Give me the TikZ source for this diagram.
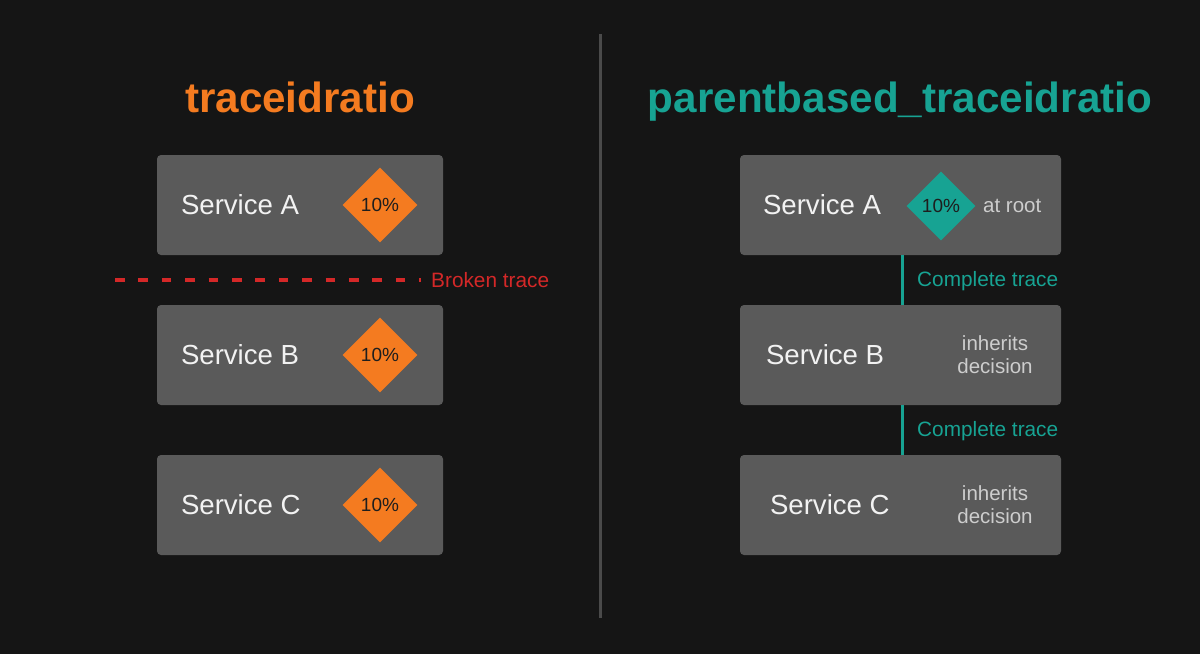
\documentclass[tikz,border=0pt]{standalone}
\usepackage{fontspec}
\setmainfont{Liberation Sans}
\usetikzlibrary{shapes.geometric}
\definecolor{bgc}{HTML}{151515}
\definecolor{boxc}{HTML}{5A5A5A}
\definecolor{orangec}{HTML}{F47B20}
\definecolor{tealc}{HTML}{17A393}
\definecolor{redc}{HTML}{D42828}
\definecolor{divc}{HTML}{4A4A4A}
\definecolor{txtc}{HTML}{F2F2F2}
\definecolor{subc}{HTML}{CDCDCD}
\definecolor{darkc}{HTML}{1E1E1E}
\begin{document}
\begin{tikzpicture}[x=1pt,y=-1pt,
  svcbox/.style={fill=boxc, draw=none, rounded corners=4pt, inner sep=0pt},
  lbox/.style={svcbox, minimum width=286pt, minimum height=100pt},
  rbox/.style={svcbox, minimum width=321pt, minimum height=100pt},
  svc/.style={text=txtc, font=\fontsize{27.6}{32}\selectfont, anchor=west, inner sep=0pt},
  pct/.style={diamond, aspect=1, inner sep=0pt, minimum width=#1, minimum height=#1, text=darkc, font=\fontsize{19}{22}\selectfont},
  sub/.style={text=subc, font=\fontsize{20.5}{24}\selectfont, inner sep=0pt, align=center},
  title/.style={font=\bfseries\fontsize{42.2}{48}\selectfont, anchor=base, inner sep=0pt},
  conn/.style={draw=tealc, line width=3pt},
  connlabel/.style={text=tealc, font=\fontsize{20.8}{24}\selectfont, anchor=west, inner sep=0pt},
]
\useasboundingbox[fill=bgc] (0,0) rectangle (1200,654);

% divider
\coordinate (d0) at (600,34);
\coordinate (d1) at (600,618);
\draw[divc, line width=3pt] (d0) -- (d1);

% titles
\node[title, text=orangec] (t1) at (300,112) {traceidratio};
\node[title, text=tealc] (t2) at (900,112) {parentbased\_traceidratio};

% left column
\node[lbox] (la) at (300,205) {};
\node[lbox] (lb) at (300,355) {};
\node[lbox] (lc) at (300,505) {};
\node[svc] (la-t) at ([xshift=24pt]la.west) {Service A};
\node[svc] (lb-t) at ([xshift=24pt]lb.west) {Service B};
\node[svc] (lc-t) at ([xshift=24pt]lc.west) {Service C};
\node[pct=75pt, fill=orangec] (la-d) at (380,205) {10\%};
\node[pct=75pt, fill=orangec] (lb-d) at (380,355) {10\%};
\node[pct=75pt, fill=orangec] (lc-d) at (380,505) {10\%};

% broken trace
\coordinate (bt0) at (115,280);
\node[text=redc, font=\fontsize{20.8}{24}\selectfont, anchor=west, inner sep=0pt] (btl) at (431,280) {Broken trace};
\draw[redc, line width=3.5pt, dash pattern=on 9.5pt off 13.9pt, shorten >=10pt] (bt0) -- (btl.west);

% right column
\node[rbox] (ra) at (900.5,205) {};
\node[rbox] (rb) at (900.5,355) {};
\node[rbox] (rc) at (900.5,505) {};
\node[svc] (ra-t) at ([xshift=23pt]ra.west) {Service A};
\node[svc] (rb-t) at ([xshift=26pt]rb.west) {Service B};
\node[svc] (rc-t) at ([xshift=30pt]rc.west) {Service C};
\node[pct=69pt, fill=tealc] (ra-d) at (941,206) {10\%};
\node[sub, anchor=west] (ra-s) at (983,206) {at root};
\node[sub] (rb-s) at (995,355) {inherits\\[-1pt]decision};
\node[sub] (rc-s) at (995,505) {inherits\\[-1pt]decision};

% connectors
\draw[conn] ([xshift=1.5pt]ra.south) -- ([xshift=1.5pt]rb.north);
\draw[conn] ([xshift=1.5pt]rb.south) -- ([xshift=1.5pt]rc.north);
\node[connlabel] (c1) at (917,281) {Complete trace};
\node[connlabel] (c2) at (917,431) {Complete trace};
\end{tikzpicture}
\end{document}
